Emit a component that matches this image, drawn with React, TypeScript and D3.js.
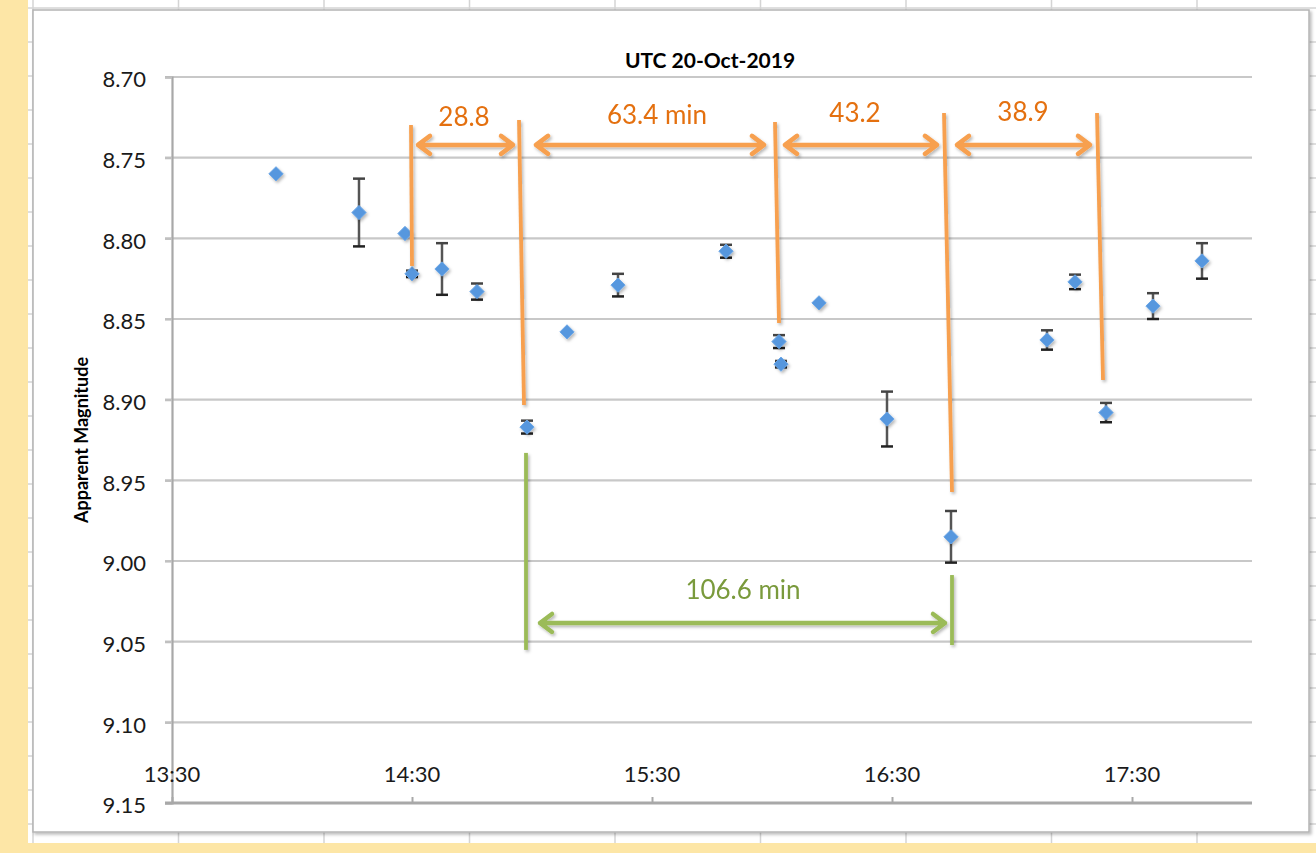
import React, { useRef, useEffect } from 'react';
import * as d3 from 'd3';

const W = 1316;
const H = 853;

// observations, UTC 20-Oct-2019
const obsTimes = [
  '13:56:00', '14:16:45', '14:28:15', '14:30:00', '14:37:30', '14:46:15', '14:58:45',
  '15:08:45', '15:21:30', '15:48:30', '16:01:45', '16:02:15', '16:11:45', '16:28:45',
  '16:44:45', '17:08:45', '17:15:45', '17:23:30', '17:35:15', '17:47:30',
];
const magnitudes = [
  8.760, 8.784, 8.797, 8.822, 8.819, 8.833, 8.917,
  8.858, 8.829, 8.808, 8.864, 8.878, 8.840, 8.912,
  8.985, 8.863, 8.827, 8.908, 8.842, 8.814,
];
const magErrors = [
  0, 0.021, 0, 0.002, 0.016, 0.005, 0.004,
  0, 0.007, 0.004, 0.004, 0.002, 0, 0.017,
  0.016, 0.006, 0.0045, 0.006, 0.008, 0.011,
];

const yTicks = [8.70, 8.75, 8.80, 8.85, 8.90, 8.95, 9.00, 9.05, 9.10, 9.15];
const xTickLabels = ['13:30', '14:30', '15:30', '16:30', '17:30'];

// orange minima markers (hand drawn lines)
const markTopTimes = ['14:29:45', '14:56:45', '16:00:45', '16:43:00', '17:21:15'];
const markBottomTimes = ['14:30:00', '14:58:00', '16:01:45', '16:45:00', '17:22:45'];
const markTopMags = [8.7298, 8.7267, 8.7279, 8.7223, 8.7223];
const markBottomMags = [8.8171, 8.9033, 8.8525, 8.9572, 8.8878];

// orange interval arrows
const intervalLabels = ['28.8', '63.4 min', '43.2', '38.9'];
const intervalStart = ['14:31:30', '15:01:00', '16:03:15', '16:46:15'];
const intervalEnd = ['14:55:15', '15:58:00', '16:41:15', '17:19:30'];
const intervalLabelTimes = ['14:43:00', '15:31:15', '16:20:45', '17:02:45'];
const intervalLabelMags = [8.7248, 8.7236, 8.7223, 8.7217];
const intervalArrowMag = 8.7421;

// green total span
const spanLineTimes = ['14:58:30', '16:45:00'];
const spanTopMags = [8.9330, 9.0087];
const spanBottomMags = [9.0551, 9.0521];
const spanArrow = ['15:02:00', '16:43:15'];
const spanArrowMag = 9.0384;
const spanLabel = '106.6 min';
const spanLabelTime = '15:52:45';
const spanLabelMag = 9.0180;

const FONT = "Lato, 'Open Sans', sans-serif";
const ORANGE = '#f7a04f';
const ORANGE_TEXT = '#e4700f';
const GREEN = '#9bbb59';
const GREEN_TEXT = '#7a9a3c';

const App = () => {
  const svgRef = useRef<SVGSVGElement>(null);

  useEffect(() => {
    const svg = d3.select(svgRef.current);
    svg.selectAll('*').remove();

    const parse = d3.timeParse('%H:%M:%S');
    const t = (s: string) => parse(s.length === 5 ? s + ':00' : s) as Date;

    const x = d3.scaleTime().domain([t('13:30'), t('18:00')]).range([172, 1252]);
    const y = d3.scaleLinear().domain([8.70, 9.15]).range([77, 803]);

    const defs = svg.append('defs');
    const sh = defs.append('filter').attr('id', 'shadow')
      .attr('x', '-50%').attr('y', '-50%').attr('width', '200%').attr('height', '200%');
    sh.append('feDropShadow').attr('dx', 1.5).attr('dy', 2).attr('stdDeviation', 1.5)
      .attr('flood-color', '#000').attr('flood-opacity', 0.28);
    const boxSh = defs.append('filter').attr('id', 'boxshadow')
      .attr('x', '-5%').attr('y', '-5%').attr('width', '110%').attr('height', '110%');
    boxSh.append('feDropShadow').attr('dx', 2).attr('dy', 2).attr('stdDeviation', 1.5)
      .attr('flood-color', '#000').attr('flood-opacity', 0.25);

    // page + spreadsheet background
    svg.append('rect').attr('width', W).attr('height', H).attr('fill', '#fde6a6');
    svg.append('rect').attr('x', 28).attr('y', 0).attr('width', W - 28).attr('height', 843).attr('fill', '#fff');
    const sheet = svg.append('g').attr('stroke', '#d4d4d4').attr('stroke-width', 1.5);
    sheet.selectAll('line.col').data(d3.range(0, 9)).join('line')
      .attr('x1', i => 33 + i * 145.5).attr('x2', i => 33 + i * 145.5)
      .attr('y1', 0).attr('y2', 843);
    sheet.selectAll('line.row').data(d3.range(0, 25)).join('line')
      .attr('x1', 28).attr('x2', W)
      .attr('y1', i => 8 + i * 34).attr('y2', i => 8 + i * 34);

    // chart box
    svg.append('rect').attr('x', 33).attr('y', 10).attr('width', 1276).attr('height', 822)
      .attr('fill', '#fff').attr('stroke', '#b4b4b4').attr('stroke-width', 1.5)
      .attr('filter', 'url(#boxshadow)');

    // gridlines
    svg.append('g').selectAll('line').data(yTicks.slice(0, -1)).join('line')
      .attr('x1', 165).attr('x2', 1252)
      .attr('y1', d => y(d)).attr('y2', d => y(d))
      .attr('stroke', '#c8c8c8').attr('stroke-width', 2.2);

    // y axis
    const yAxis = svg.append('g').attr('transform', 'translate(172,0)')
      .call(d3.axisLeft(y).tickValues(yTicks).tickFormat(d3.format('.2f')).tickSize(7).tickPadding(19));
    yAxis.select('.domain').attr('stroke', '#a8a8a8').attr('stroke-width', 2.2);
    yAxis.selectAll('.tick line').attr('stroke', '#c0c0c0').attr('stroke-width', 2.2);
    yAxis.selectAll('text').attr('font-family', FONT).attr('font-size', 22)
      .attr('fill', '#1a1a1a').attr('dy', '0.45em');

    // x axis (labels sit above the line)
    const xAxis = svg.append('g').attr('transform', 'translate(0,803)')
      .call(d3.axisBottom(x).tickValues(xTickLabels.map(t)).tickSize(-6).tickFormat(() => ''));
    xAxis.select('.domain').remove();
    xAxis.selectAll('.tick line').attr('stroke', '#a8a8a8').attr('stroke-width', 2);
    svg.append('line').attr('x1', 165).attr('x2', 1252).attr('y1', 803).attr('y2', 803)
      .attr('stroke', '#a8a8a8').attr('stroke-width', 3);
    svg.append('g').selectAll('text').data(xTickLabels).join('text')
      .attr('x', d => x(t(d))).attr('y', 774).attr('dy', '0.35em')
      .attr('text-anchor', 'middle').attr('font-family', FONT).attr('font-size', 22)
      .attr('fill', '#1a1a1a').text(d => d);

    // title and axis title
    svg.append('text').attr('x', 710).attr('y', 61).attr('dy', '0.35em')
      .attr('text-anchor', 'middle').attr('font-family', FONT).attr('font-weight', 700)
      .attr('font-size', 21).attr('fill', '#000').text('UTC 20-Oct-2019');
    svg.append('text').attr('transform', 'translate(82,440) rotate(-90)').attr('dy', '0.35em')
      .attr('text-anchor', 'middle').attr('font-family', FONT).attr('font-weight', 700)
      .attr('font-size', 18).attr('fill', '#000').text('Apparent Magnitude');

    // error bars
    const obs = obsTimes.map((s, i) => ({ time: t(s), mag: magnitudes[i], err: magErrors[i] }));
    const eb = svg.append('g');
    const withErr = obs.filter(d => d.err > 0);
    eb.selectAll('line.v').data(withErr).join('line')
      .attr('x1', d => x(d.time)).attr('x2', d => x(d.time))
      .attr('y1', d => y(d.mag - d.err)).attr('y2', d => y(d.mag + d.err))
      .attr('stroke', '#555').attr('stroke-width', 2.5);
    eb.selectAll('line.top').data(withErr).join('line')
      .attr('x1', d => x(d.time) - 6).attr('x2', d => x(d.time) + 6)
      .attr('y1', d => y(d.mag - d.err)).attr('y2', d => y(d.mag - d.err))
      .attr('stroke', '#444').attr('stroke-width', 2.5);
    eb.selectAll('line.bot').data(withErr).join('line')
      .attr('x1', d => x(d.time) - 6).attr('x2', d => x(d.time) + 6)
      .attr('y1', d => y(d.mag + d.err)).attr('y2', d => y(d.mag + d.err))
      .attr('stroke', '#222').attr('stroke-width', 2.5);

    // markers
    const diamond = d3.symbol().type(d3.symbolDiamond2).size(130);
    svg.append('g').attr('filter', 'url(#shadow)').selectAll('path').data(obs).join('path')
      .attr('transform', d => `translate(${x(d.time)},${y(d.mag)})`)
      .attr('d', diamond)
      .attr('fill', '#5697de')
      .attr('stroke', '#6ba6e6').attr('stroke-width', 1).attr('stroke-linejoin', 'round');

    // double arrow helper
    const arrow = (g: any, x0: number, x1: number, yy: number, color: string) => {
      g.append('path')
        .attr('d', `M${x0},${yy}L${x1},${yy}M${x0 + 12},${yy - 9}L${x0},${yy}L${x0 + 12},${yy + 9}M${x1 - 12},${yy - 9}L${x1},${yy}L${x1 - 12},${yy + 9}`)
        .attr('fill', 'none').attr('stroke', color).attr('stroke-width', 4.5)
        .attr('stroke-linecap', 'round').attr('stroke-linejoin', 'round');
    };

    // orange annotations
    const ann = svg.append('g').attr('filter', 'url(#shadow)');
    ann.selectAll('line').data(markTopTimes).join('line')
      .attr('x1', (d, i) => x(t(d))).attr('y1', (d, i) => y(markTopMags[i]))
      .attr('x2', (d, i) => x(t(markBottomTimes[i]))).attr('y2', (d, i) => y(markBottomMags[i]))
      .attr('stroke', ORANGE).attr('stroke-width', 3.8);
    intervalStart.forEach((s, i) => arrow(ann, x(t(s)), x(t(intervalEnd[i])), y(intervalArrowMag), ORANGE));
    svg.append('g').selectAll('text').data(intervalLabels).join('text')
      .attr('x', (d, i) => x(t(intervalLabelTimes[i]))).attr('y', (d, i) => y(intervalLabelMags[i]))
      .attr('dy', '0.35em').attr('text-anchor', 'middle').attr('font-family', FONT)
      .attr('font-size', 26).attr('fill', ORANGE_TEXT).text(d => d);

    // green annotations
    const gr = svg.append('g').attr('filter', 'url(#shadow)');
    gr.selectAll('line').data(spanLineTimes).join('line')
      .attr('x1', d => x(t(d))).attr('x2', d => x(t(d)))
      .attr('y1', (d, i) => y(spanTopMags[i])).attr('y2', (d, i) => y(spanBottomMags[i]))
      .attr('stroke', GREEN).attr('stroke-width', 3.8);
    arrow(gr, x(t(spanArrow[0])), x(t(spanArrow[1])), y(spanArrowMag), GREEN);
    svg.append('text').attr('x', x(t(spanLabelTime))).attr('y', y(spanLabelMag)).attr('dy', '0.35em')
      .attr('text-anchor', 'middle').attr('font-family', FONT).attr('font-size', 26)
      .attr('fill', GREEN_TEXT).text(spanLabel);
  }, []);

  return (
    <svg ref={svgRef} width={W} height={H} style={{ position: 'absolute', left: 0, top: 0 }} />
  );
};

export default App;
